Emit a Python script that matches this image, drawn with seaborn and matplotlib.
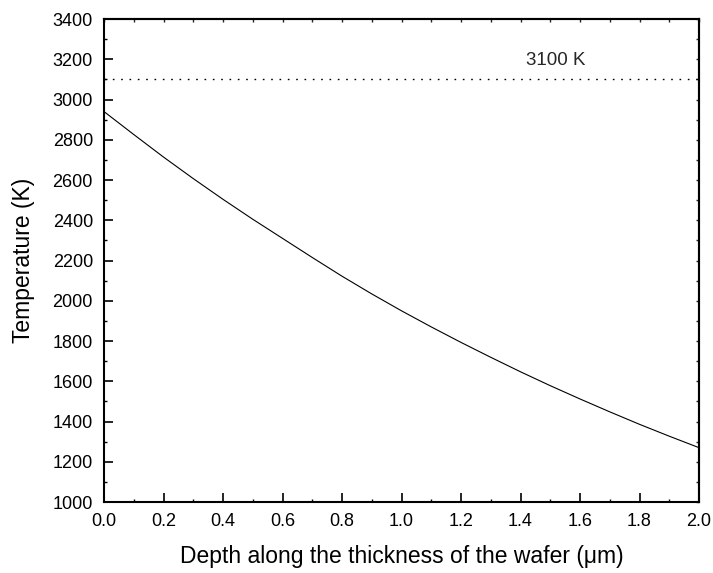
import matplotlib
matplotlib.use("Agg")
import matplotlib.pyplot as plt
import seaborn as sns
import pandas as pd
from matplotlib.ticker import MultipleLocator

depth = [0.0, 0.1, 0.2, 0.3, 0.4, 0.5, 0.6, 0.7, 0.8, 0.9, 1.0,
         1.1, 1.2, 1.3, 1.4, 1.5, 1.6, 1.7, 1.8, 1.9, 2.0]
temperature = [2940, 2826, 2714, 2607, 2504, 2405, 2310, 2215, 2122, 2034, 1950,
               1870, 1793, 1719, 1647, 1578, 1512, 1448, 1386, 1327, 1270]
threshold_value = 3100
threshold_label = "3100 K"
x_label = "Depth along the thickness of the wafer (μm)"
y_label = "Temperature (K)"

sns.set_style("ticks")
plt.rcParams['font.family'] = ['Liberation Sans', 'DejaVu Sans']

df = pd.DataFrame({"depth": depth, "temperature": temperature})

fig = plt.figure(figsize=(7.13, 5.73), dpi=100)
ax = fig.add_axes([0.1459, 0.1239, 0.9804 - 0.1459, 0.9668 - 0.1239])

sns.lineplot(data=df, x="depth", y="temperature", ax=ax, color="black", linewidth=0.8)
ax.axhline(threshold_value, color="black", linewidth=1.0, linestyle=(0, (1.2, 4.8)))
ax.text(1.52, 3192, threshold_label, ha="center", va="center", fontsize=13.5)

ax.set_xlim(0, 2.0)
ax.set_ylim(1000, 3400)
ax.xaxis.set_major_locator(MultipleLocator(0.2))
ax.xaxis.set_minor_locator(MultipleLocator(0.1))
ax.yaxis.set_major_locator(MultipleLocator(200))
ax.yaxis.set_minor_locator(MultipleLocator(100))
ax.xaxis.set_major_formatter(plt.FuncFormatter(lambda v, p: f"{v:.1f}"))

ax.tick_params(axis="both", which="major", direction="in", length=6.5, width=1.2,
               labelsize=13, pad=8, color="black", labelcolor="black")
ax.tick_params(axis="both", which="minor", direction="in", length=2.2, width=1.0, color="black")

for s in ax.spines.values():
    s.set_visible(True)
    s.set_linewidth(1.5)
    s.set_color("black")

secx = ax.secondary_xaxis("top")
secx.xaxis.set_major_locator(MultipleLocator(0.1))
secx.tick_params(direction="in", length=2.2, width=1.0, labeltop=False)
secy = ax.secondary_yaxis("right")
secy.yaxis.set_major_locator(MultipleLocator(100))
secy.tick_params(direction="in", length=2.2, width=1.0, labelright=False)
for sa in (secx, secy):
    for s in sa.spines.values():
        s.set_linewidth(1.5)

ax.set_xlabel(x_label, fontsize=16.5, color="black")
ax.set_ylabel(y_label, fontsize=16.5, color="black")
ax.xaxis.label.set_va("center")
ax.yaxis.label.set_va("center")
ax.xaxis.set_label_coords(0.5, -0.112)
ax.yaxis.set_label_coords(-0.136, 0.5)

fig.savefig("out.png", dpi=100, facecolor="white")
